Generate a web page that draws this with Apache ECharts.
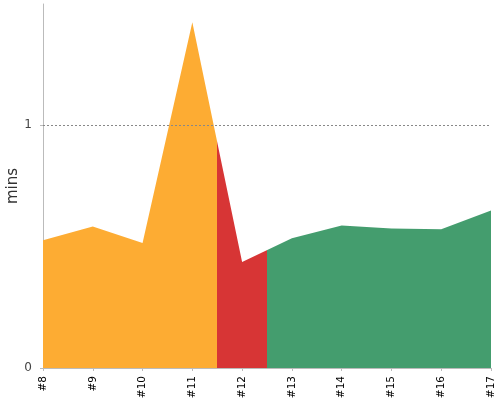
<!DOCTYPE html>
<html>
<head>
<meta charset="utf-8">
<style>
  html, body { margin: 0; padding: 0; background: #fff; }
  #chart { width: 500px; height: 400px; }
</style>
<script src="https://cdn.jsdelivr.net/npm/echarts@6/dist/echarts.min.js"></script>
</head>
<body>
<div id="chart"></div>
<script>
// Build duration trend (minutes)
const builds = ['#8', '#9', '#10', '#11', '#12', '#13', '#14', '#15', '#16', '#17'];
const durations = [0.526, 0.583, 0.515, 1.425, 0.437, 0.535, 0.587, 0.575, 0.572, 0.649];
const statuses = ['unstable', 'unstable', 'unstable', 'unstable', 'failed',
                  'success', 'success', 'success', 'success', 'success'];
const yTicks = [0, 1];

const statusColors = {
    unstable: '#fdac33',
    failed: '#d73535',
    success: '#449d6e'
};

// x is the build's position, so colour bands can change halfway between builds
const points = durations.map((d, i) => [i, d]);
const pieces = statuses.map((s, i) => ({
    gte: i - 0.5,
    lt: i + 0.5,
    color: statusColors[s]
}));

const chart = echarts.init(document.getElementById('chart'));
chart.setOption({
    animation: false,
    textStyle: { fontFamily: 'DejaVu Sans' },
    grid: { left: 43, right: 9, top: 4, bottom: 32, outerBoundsMode: 'none' },
    visualMap: {
        show: false,
        type: 'piecewise',
        dimension: 0,
        seriesIndex: 0,
        pieces: pieces
    },
    xAxis: {
        type: 'value',
        min: 0,
        max: builds.length - 1,
        interval: 1,
        offset: 2,
        axisLine: { lineStyle: { color: '#bbb' } },
        axisTick: { show: true, length: 3, lineStyle: { color: '#bbb' } },
        axisLabel: {
            rotate: 90, fontSize: 10.5, color: '#000', margin: 6,
            formatter: v => builds[v] || ''
        },
        splitLine: { show: false }
    },
    yAxis: {
        type: 'value',
        min: 0,
        max: 1.5,
        interval: 1,
        offset: 3,
        name: 'mins',
        nameLocation: 'middle',
        nameGap: 19,
        nameMoveOverlap: false,
        nameTextStyle: { fontSize: 15, color: '#333' },
        axisLine: { show: true, lineStyle: { color: '#bbb' } },
        axisTick: { show: true, length: 3, lineStyle: { color: '#bbb' } },
        axisLabel: {
            fontSize: 12,
            color: '#444',
            margin: 8,
            showMaxLabel: false,
            formatter: v => (yTicks.indexOf(v) >= 0 ? String(v) : '')
        },
        splitLine: { show: false }
    },
    series: [{
        type: 'line',
        data: points,
        symbol: 'none',
        lineStyle: { width: 0 },
        areaStyle: { opacity: 1 },
        markLine: {
            silent: true,
            symbol: 'none',
            label: { show: false },
            lineStyle: { color: '#888', type: [2, 2], width: 1 },
            data: [{ yAxis: yTicks[1] }]
        }
    }]
});
</script>
</body>
</html>
